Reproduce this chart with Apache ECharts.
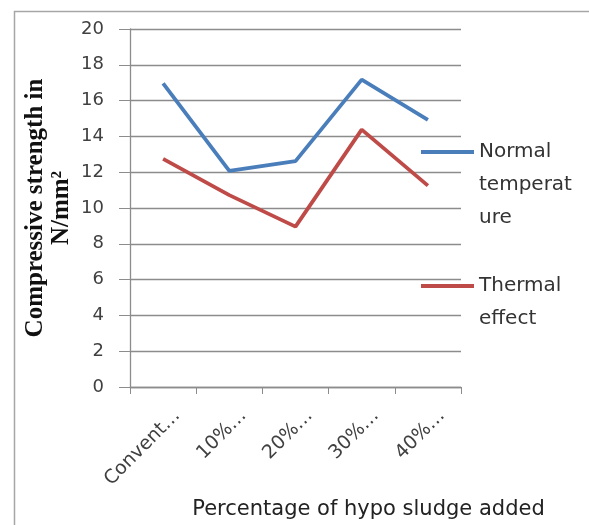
<!DOCTYPE html>
<html>
<head>
<meta charset="utf-8">
<script src="https://cdn.jsdelivr.net/npm/echarts@6/dist/echarts.min.js"></script>
<style>
html,body{margin:0;padding:0;background:#fff;}
#main{width:589px;height:525px;}
</style>
</head>
<body>
<div id="main"></div>
<script>
const categories = ['Convent\u2026', '10%\u2026', '20%\u2026', '30%\u2026', '40%\u2026'];
const normalTemp = [16.96, 12.07, 12.62, 17.17, 14.93];
const thermalEffect = [12.74, 10.72, 8.96, 14.38, 11.25];
const yTicks = { min: 0, max: 20, interval: 2 };
const seriesNames = ['Normal temperature', 'Thermal effect'];
const legendLabels = ['Normal\ntemperat\nure', 'Thermal\neffect'];

const gridColor = '#8c8c8c';
const chart = echarts.init(document.getElementById('main'));
const LH = 33;
function legendFor(i, top) {
  const n = legendLabels[i].split('\n').length;
  // leading blank lines so the first text line sits level with the icon
  const label = '\n'.repeat(n - 1) + legendLabels[i];
  return {
    data: [seriesNames[i]],
    left: 421, top: top,
    padding: 0,
    orient: 'vertical',
    itemWidth: 53, itemHeight: 4, itemGap: 0,
    icon: 'rect',
    formatter: () => label,
    selectedMode: false,
    textStyle: {
      fontFamily: 'DejaVu Sans', fontSize: 20, color: '#333',
      lineHeight: LH
    }
  };
}
chart.setOption({
  backgroundColor: '#fff',
  animation: false,
  graphic: [{
    type: 'rect', left: 12, top: 9,
    shape: { width: 576, height: 530 },
    style: { fill: 'none', stroke: '#a6a6a6', lineWidth: 1.5 },
    silent: true
  }],
  grid: { left: 130, right: 128, top: 29, bottom: 137 },
  legend: [legendFor(0, 152 - 82.5), legendFor(1, 286 - 49.5)],
  xAxis: {
    type: 'category',
    data: categories,
    boundaryGap: true,
    axisLine: { lineStyle: { color: gridColor, width: 1.3 } },
    axisTick: { show: true, length: 7, alignWithLabel: false, lineStyle: { color: gridColor } },
    axisLabel: {
      rotate: 45, margin: 40, interval: 0,
      fontFamily: 'DejaVu Sans', fontSize: 19, color: '#404040',
      padding: [0, -20, 0, 0]
    },
    name: 'Percentage of hypo sludge added',
    nameLocation: 'middle',
    nameGap: 112,
    nameMoveOverlap: false,
    nameTextStyle: {
      fontFamily: 'DejaVu Sans', fontSize: 21, color: '#222',
      padding: [0, 0, 0, 146]
    }
  },
  yAxis: {
    type: 'value',
    min: yTicks.min, max: yTicks.max, interval: yTicks.interval,
    axisLine: { show: true, lineStyle: { color: gridColor, width: 1.3 } },
    axisTick: { show: true, length: 11, lineStyle: { color: gridColor } },
    splitLine: { show: true, lineStyle: { color: gridColor, width: 1.3 } },
    axisLabel: { margin: 26, fontFamily: 'DejaVu Sans', fontSize: 18, color: '#404040' },
    name: 'Compressive strength in\nN/mm\u00b2',
    nameLocation: 'middle',
    nameRotate: 90,
    nameGap: 55,
    nameMoveOverlap: false,
    nameTextStyle: {
      fontFamily: 'Liberation Serif', fontWeight: 'bold', fontSize: 25,
      lineHeight: 26, color: '#111'
    }
  },
  series: [
    {
      name: seriesNames[0], type: 'line', data: normalTemp,
      showSymbol: false, symbol: 'none',
      lineStyle: { color: '#4a7ebb', width: 3.8 },
      itemStyle: { color: '#4a7ebb' }
    },
    {
      name: seriesNames[1], type: 'line', data: thermalEffect,
      showSymbol: false, symbol: 'none',
      lineStyle: { color: '#be4b48', width: 3.8 },
      itemStyle: { color: '#be4b48' }
    }
  ]
});
</script>
</body>
</html>
